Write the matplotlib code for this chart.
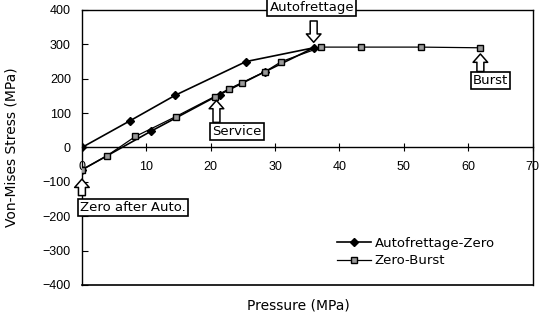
import matplotlib
matplotlib.use("Agg")
from matplotlib import pyplot as plt

plt.rcParams["font.family"] = ["Liberation Sans", "DejaVu Sans"]
plt.rcParams["font.size"] = 9

# Autofrettage-Zero: loading up to autofrettage, then unloading to zero
afz_pressure = [0, 7.5, 14.5, 25.5, 36, 28.5, 21.4, 10.8, 0]
afz_stress = [0, 78, 152, 250, 290, 221, 154, 48, -65]

# Zero-Burst: reloading from zero to burst
zb_pressure = [0, 3.9, 8.3, 14.6, 20.6, 22.9, 24.9, 28.5, 31, 37.2, 43.3, 52.6, 61.9]
zb_stress = [-65, -24, 32, 90, 148, 171, 189, 221, 250, 292, 292, 292, 290]

x_ticks = [0, 10, 20, 30, 40, 50, 60, 70]
y_ticks = [-400, -300, -200, -100, 0, 100, 200, 300, 400]

# label text, box centre, arrow tail, arrow tip (data coords)
notes = [
    ("Autofrettage", (35.7, 407), (36, 368), (36, 306)),
    ("Service", (24.1, 46), (20.9, 73), (20.9, 137)),
    ("Burst", (63.5, 195), (61.9, 221), (61.9, 272)),
    ("Zero after Auto.", (7.9, -174), (0, -140), (0, -92)),
]

wide = ["DejaVu Sans", "Liberation Sans"]

fig = plt.figure(figsize=(5.39, 3.22), dpi=100)
ax = fig.add_axes([0.152, 0.115, 0.836, 0.854])

ax.plot(afz_pressure, afz_stress, color="black", lw=1.2, marker="D",
        markersize=4.5, markerfacecolor="black", markeredgecolor="black",
        label="Autofrettage-Zero", zorder=3)
ax.plot(zb_pressure, zb_stress, color="black", lw=0.9, marker="s",
        markersize=5, markerfacecolor="#9a9a9a", markeredgecolor="black",
        markeredgewidth=1.0, label="Zero-Burst", zorder=4)

ax.set_xlim(0, 70)
ax.set_ylim(-400, 400)
ax.set_xticks(x_ticks)
ax.set_yticks(y_ticks)

ax.spines["bottom"].set_position(("data", 0))
for s in ["left", "top", "right", "bottom"]:
    ax.spines[s].set_linewidth(1.0)
ax.plot([0, 1], [0, 0], transform=ax.transAxes, color="black", lw=1.2,
        clip_on=False)
ax.tick_params(axis="x", direction="inout", length=6, pad=7)
ax.tick_params(axis="y", direction="in", length=4, pad=8)
for lab in ax.get_xticklabels():
    lab.set_zorder(1)

ax.set_ylabel("Von-Mises Stress (MPa)", fontsize=10, family=wide)
ax.yaxis.set_label_coords(-0.14, 0.5)
fig.text(0.553, 0.05, "Pressure (MPa)", ha="center", va="center",
         fontsize=10, family=wide)

for text, box, tail, tip in notes:
    ax.text(box[0], box[1], text, ha="center", va="center", fontsize=9.5,
            family=wide,
            bbox=dict(boxstyle="square,pad=0.15", fc="white", ec="black",
                      lw=1.2), clip_on=False, zorder=6)
    ax.annotate("", xy=tip, xytext=tail,
                arrowprops=dict(arrowstyle="simple,head_length=0.6,"
                                "head_width=1.05,tail_width=0.5",
                                fc="white", ec="black", lw=1.1,
                                mutation_scale=10, shrinkA=0, shrinkB=0),
                annotation_clip=False, zorder=6)

ax.legend(loc="upper left", bbox_to_anchor=(0.565, 0.175), frameon=False,
          handlelength=2.6, handletextpad=0.3, labelspacing=0.35,
          borderaxespad=0, borderpad=0, prop={"family": wide, "size": 9.5})

fig.savefig("out.png", dpi=100)
